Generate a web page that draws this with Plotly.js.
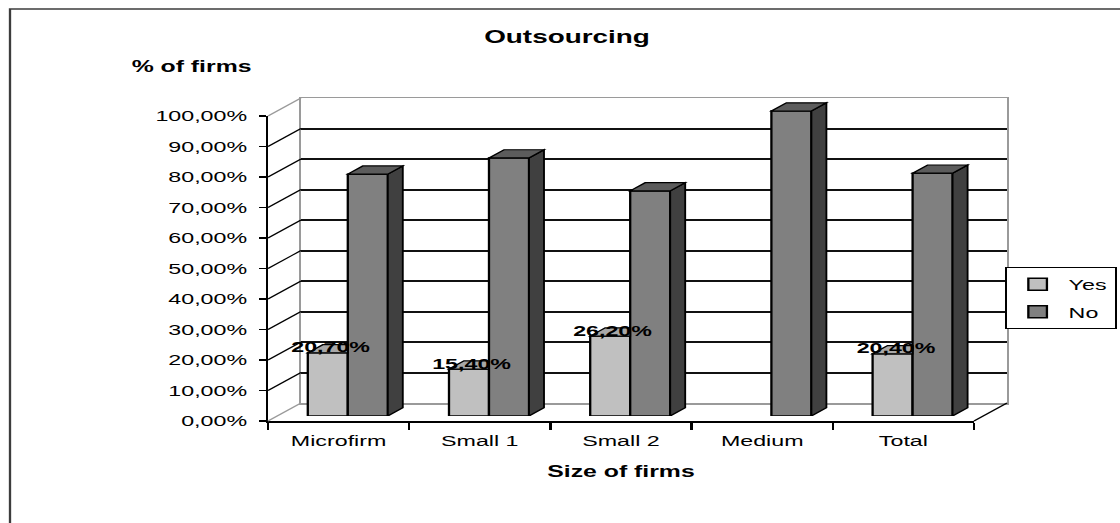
<!DOCTYPE html>
<html><head><meta charset="utf-8">
<script src="https://cdn.plot.ly/plotly-3.0.1.min.js"></script>
<style>
html,body{margin:0;padding:0;overflow:hidden;background:#fff;width:1120px;height:523px}
#chart{width:723px;height:523px;transform:scaleX(1.54910);transform-origin:0 0}
</style></head><body><div id="chart"></div>
<script>
// ---- data ----
const categories = ['Microfirm', 'Small 1', 'Small 2', 'Medium', 'Total'];
const seriesNames = ['Yes', 'No'];
const yesValues = [20.7, 15.4, 26.2, null, 20.4];
const noValues = [79.3, 84.6, 73.8, 100, 79.6];
const yTickValues = [0, 10, 20, 30, 40, 50, 60, 70, 80, 90, 100];
const chartTitle = 'Outsourcing';
const yTitle = '% of firms';
const xTitle = 'Size of firms';

// ---- geometry (reference page pixels) ----
const PAGE_W = 1120, PAGE_H = 523, PLOT_W = 723;
const FRONT = {left: 268, right: 974, bottom: 421, top100: 116};
const K = (FRONT.bottom - FRONT.top100) / 100;          // px per unit
const SLOT = (FRONT.right - FRONT.left) / categories.length;
const WALL = {dx: 33, dy: 18};
const BAR_PLANE = {dx: 9.2, dy: 5};
const BAR_DEPTH = {dx: 15, dy: 8.2};
const BW = 40 / SLOT;                 // bar width in category units
const TX = BAR_DEPTH.dx / SLOT;       // depth in x units
const TY = BAR_DEPTH.dy / K;          // depth in y units
const FONT = 'Liberation Sans, Arial, sans-serif';

function domains(ox, oy, ymax) {
  return {
    x: [(FRONT.left + ox) / PAGE_W, (FRONT.right + ox) / PAGE_W],
    y: [(PAGE_H - (FRONT.bottom - oy)) / PAGE_H, (PAGE_H - (FRONT.bottom - oy - K * ymax)) / PAGE_H]
  };
}
const wallDom = domains(WALL.dx, WALL.dy, 100);
const barDom = domains(BAR_PLANE.dx, BAR_PLANE.dy, 110);
const frontDom = domains(0, 0, 100);
const pyFront = v => (PAGE_H - (FRONT.bottom - K * v)) / PAGE_H;
const fmt = v => v.toFixed(2).replace('.', ',') + '%';

const traces = [
  {type: 'scatter', mode: 'markers', x: [null], y: [null], xaxis: 'x', yaxis: 'y', showlegend: false, hoverinfo: 'skip'},
  {type: 'bar', name: seriesNames[0], x: categories, y: yesValues, xaxis: 'x2', yaxis: 'y2',
   width: BW, offset: -BW, legendgroup: 'g1',
   marker: {color: '#c0c0c0', line: {color: '#000', width: 1.5}}},
  {type: 'bar', name: seriesNames[1], x: categories, y: noValues, xaxis: 'x2', yaxis: 'y2',
   width: BW, offset: 0, legendgroup: 'g2',
   marker: {color: '#808080', line: {color: '#000', width: 1.5}}},
  {type: 'scatter', mode: 'markers', x: [null], y: [null], xaxis: 'x3', yaxis: 'y3', showlegend: false, hoverinfo: 'skip'}
];

const shapes = [];
// outer frame
shapes.push({type: 'rect', xref: 'paper', yref: 'paper', x0: 10 / PAGE_W, x1: 1.05, y0: -0.05, y1: (PAGE_H - 9) / PAGE_H,
  line: {color: '#3c3c3c', width: 1.5}, fillcolor: 'rgba(0,0,0,0)', layer: 'below'});
// connectors from front axis to back wall
yTickValues.forEach(v => {
  const edge = (v === yTickValues[0] || v === yTickValues[yTickValues.length - 1]);
  shapes.push({type: 'line', xref: 'paper', yref: 'paper',
    x0: FRONT.left / PAGE_W, y0: pyFront(v), x1: (FRONT.left + WALL.dx) / PAGE_W, y1: pyFront(v) + WALL.dy / PAGE_H,
    line: {color: edge ? '#9a9a9a' : '#000', width: 1}});
});
shapes.push({type: 'line', xref: 'paper', yref: 'paper',
  x0: FRONT.right / PAGE_W, y0: pyFront(0), x1: (FRONT.right + WALL.dx) / PAGE_W, y1: pyFront(0) + WALL.dy / PAGE_H,
  line: {color: '#000', width: 1}});
// 3D faces of bars
noValues.forEach((v, i) => {
  if (v == null) return;
  shapes.push({type: 'path', xref: 'x2', yref: 'y2', layer: 'above',
    path: `M ${i + BW},0 L ${i + BW + TX},${TY} L ${i + BW + TX},${v + TY} L ${i + BW},${v} Z`,
    fillcolor: '#404040', line: {color: '#000', width: 1.2}});
  shapes.push({type: 'path', xref: 'x2', yref: 'y2', layer: 'above',
    path: `M ${i},${v} L ${i + TX},${v + TY} L ${i + BW + TX},${v + TY} L ${i + BW},${v} Z`,
    fillcolor: '#5c5c5c', line: {color: '#000', width: 1.2}});
});
yesValues.forEach((v, i) => {
  if (v == null) return;
  shapes.push({type: 'path', xref: 'x2', yref: 'y2', layer: 'above',
    path: `M ${i - BW},${v} L ${i - BW + TX},${v + TY} L ${i},${v + TY} L ${i},${v} Z`,
    fillcolor: '#a8a8a8', line: {color: '#000', width: 1.2}});
});

const annotations = [];
yesValues.forEach((v, i) => {
  if (v == null) return;
  annotations.push({xref: 'x2', yref: 'y2', x: i - BW / 2, y: v, text: fmt(v), showarrow: false,
    yanchor: 'middle', yshift: 6, xshift: 2, font: {family: FONT, size: 15, weight: 'bold', color: '#000'}});
});
annotations.push({xref: 'paper', yref: 'paper', x: 192 / PAGE_W, y: (PAGE_H - 66) / PAGE_H, text: yTitle,
  showarrow: false, xanchor: 'center', yanchor: 'middle', font: {family: FONT, size: 16, weight: 'bold', color: '#000'}});

const boundaries = categories.map((c, i) => i - 0.5).concat([categories.length - 0.5]);

const layout = {
  width: PLOT_W, height: PAGE_H,
  margin: {l: 0, r: 0, t: 0, b: 0, pad: 0},
  paper_bgcolor: '#fff', plot_bgcolor: 'rgba(0,0,0,0)',
  separators: ',.',
  font: {family: FONT, size: 15, color: '#000'},
  barmode: 'overlay',
  title: {text: chartTitle, x: 567 / PAGE_W, y: (PAGE_H - 37) / PAGE_H, xanchor: 'center', yanchor: 'middle',
    xref: 'paper', yref: 'paper', font: {family: FONT, size: 18, weight: 'bold', color: '#000'}},
  showlegend: true,
  legend: {x: 0.997, xanchor: 'right', y: (PAGE_H - 267) / PAGE_H, yanchor: 'top',
    bordercolor: '#000', borderwidth: 1, bgcolor: '#fff', font: {family: FONT, size: 15, color: '#000'},
    tracegroupgap: 5, itemwidth: 30},
  xaxis: {domain: wallDom.x, range: [-0.5, categories.length - 0.5], anchor: 'y', showgrid: false, zeroline: false,
    showline: true, mirror: true, linecolor: '#9a9a9a', linewidth: 1.5, showticklabels: false, ticks: '', fixedrange: true},
  yaxis: {domain: wallDom.y, range: [0, 100], anchor: 'x', tickmode: 'array', tickvals: yTickValues.slice(1, -1),
    showgrid: true, gridcolor: '#111', gridwidth: 2, zeroline: false, showline: true, mirror: true,
    linecolor: '#9a9a9a', linewidth: 1.5, showticklabels: false, ticks: '', fixedrange: true},
  xaxis2: {domain: barDom.x, range: [-0.5, categories.length - 0.5], anchor: 'y2', type: 'category', visible: false, fixedrange: true},
  yaxis2: {domain: barDom.y, range: [0, 110], anchor: 'x2', visible: false, fixedrange: true},
  xaxis3: {domain: frontDom.x, range: [-0.5, categories.length - 0.5], anchor: 'y3',
    tickmode: 'array', tickvals: categories.map((c, i) => i), ticktext: categories, ticks: '',
    showline: true, linecolor: '#000', linewidth: 1.5, showgrid: false, zeroline: false,
    tickfont: {family: FONT, size: 15, color: '#000'}, ticklabelstandoff: 6,
    minor: {tickmode: 'array', tickvals: boundaries, ticks: 'outside', ticklen: 7, tickwidth: 1.5, tickcolor: '#000', showgrid: false},
    title: {text: xTitle, font: {family: FONT, size: 16, weight: 'bold', color: '#000'}, standoff: 17}, fixedrange: true},
  yaxis3: {domain: frontDom.y, range: [0, 100], anchor: 'x3', tickmode: 'array', tickvals: yTickValues,
    ticktext: yTickValues.map(fmt), ticks: 'outside', ticklen: 4, tickwidth: 1.5, tickcolor: '#000',
    showline: true, linecolor: '#000', linewidth: 1.5, showgrid: false, zeroline: false,
    tickfont: {family: FONT, size: 15, color: '#000'}, ticklabelstandoff: 5, fixedrange: true},
  shapes: shapes,
  annotations: annotations
};

Plotly.newPlot('chart', traces, layout, {displayModeBar: false, staticPlot: true});
</script></body></html>
